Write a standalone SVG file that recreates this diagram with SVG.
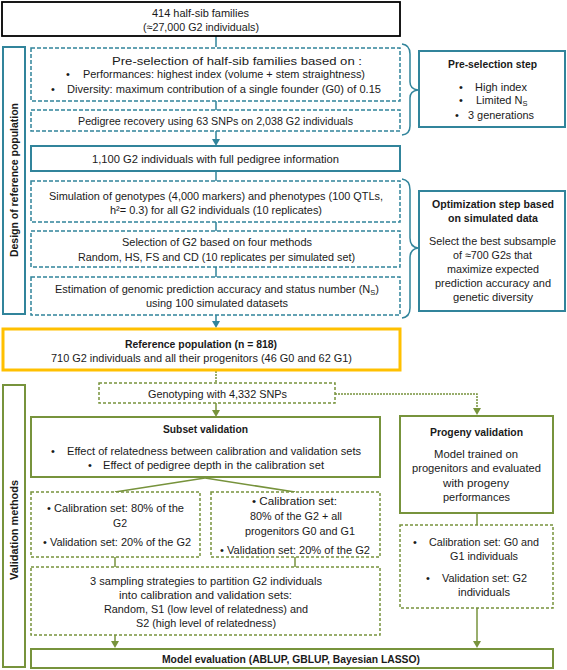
<svg xmlns="http://www.w3.org/2000/svg" width="567" height="670" viewBox="0 0 567 670">
<defs>
<style>
.t{font-family:"Liberation Sans",Arial,sans-serif;font-size:11px;fill:#1a1a1a}
.b{font-weight:bold}
.tl{fill:#fff;stroke:#31849B;stroke-width:2}
.tld{fill:#fff;stroke:#31849B;stroke-width:1.5;stroke-dasharray:4 2}
.gr{fill:#fff;stroke:#77933C;stroke-width:2}
.grd{fill:#fff;stroke:#77933C;stroke-width:1.5;stroke-dasharray:3 2}
.ct{stroke:#31849B;stroke-width:1.5;fill:none}
.cg{stroke:#77933C;stroke-width:1.5;fill:none}
.br{stroke:#31849B;stroke-width:1.5;fill:none}
</style>
</defs>

<g id="connectors">
<line class="ct" x1="216" y1="36" x2="216" y2="47"/>
<line class="ct" x1="216" y1="101" x2="216" y2="110"/>
<line class="ct" x1="216" y1="131" x2="216" y2="140"/>
<path d="M212,139 L220,139 L216,146 Z" fill="#31849B"/>
<line class="ct" x1="216" y1="171" x2="216" y2="181"/>
<line class="ct" x1="216" y1="222" x2="216" y2="231"/>
<line class="ct" x1="216" y1="267" x2="216" y2="277"/>
<line class="ct" x1="216" y1="315" x2="216" y2="322"/>
<path d="M212,321 L220,321 L216,328 Z" fill="#31849B"/>
<line class="cg" x1="216" y1="371" x2="216" y2="383" stroke-dasharray="2 1"/>
<line class="cg" x1="216" y1="403" x2="216" y2="411"/>
<path d="M212,410 L220,410 L216,417 Z" fill="#77933C"/>
<polyline class="cg" points="335,394 477,394 477,409" stroke-dasharray="2 1"/>
<path d="M473,408 L481,408 L477,415 Z" fill="#77933C"/>
<line class="cg" x1="205" y1="478" x2="115" y2="492"/>
<line class="cg" x1="205" y1="478" x2="295" y2="492"/>
<line class="cg" x1="115" y1="557" x2="115" y2="567"/>
<line class="cg" x1="295" y1="557" x2="295" y2="567"/>
<line class="cg" x1="115" y1="635" x2="115" y2="642"/>
<path d="M111,641 L119,641 L115,648 Z" fill="#77933C"/>
<line class="cg" x1="477" y1="513" x2="477" y2="525"/>
<line class="cg" x1="477" y1="608" x2="477" y2="642"/>
<path d="M473,641 L481,641 L477,648 Z" fill="#77933C"/>
<path class="br" d="M402,44 Q410,45 410,54 L410,82 Q410,89 418,90 Q410,91 410,98 L410,126 Q410,134 402,135"/>
<path class="br" d="M402,179 Q410,180 410,190 L410,238 Q410,247 418,248 Q410,249 410,258 L410,308 Q410,317 402,318"/>
</g>

<g id="top">
<rect x="2" y="2" width="398" height="34" fill="#fff" stroke="#000" stroke-width="1.8"/>
<text class="t" x="152" y="17" textLength="97" lengthAdjust="spacingAndGlyphs">414 half-sib families</text>
<text class="t" x="143" y="31" textLength="116" lengthAdjust="spacingAndGlyphs">(≈27,000 G2 individuals)</text>
</g>

<g id="design-label">
<rect class="tl" x="3" y="47" width="22" height="267"/>
<text class="t b" transform="translate(18,180) rotate(-90)" x="-77" y="0" textLength="154" lengthAdjust="spacingAndGlyphs" font-size="12">Design of reference population</text>
</g>

<g id="preselection">
<rect class="tld" x="31" y="48" width="369" height="53"/>
<text class="t" x="112" y="65" textLength="250" lengthAdjust="spacingAndGlyphs">Pre-selection of half-sib families based on :</text>
<text class="t" x="66" y="78">•</text>
<text class="t" x="83" y="78" textLength="282" lengthAdjust="spacingAndGlyphs">Performances: highest index (volume + stem straightness)</text>
<text class="t" x="51" y="93">•</text>
<text class="t" x="67" y="93" textLength="314" lengthAdjust="spacingAndGlyphs">Diversity: maximum contribution of a single founder (G0) of 0.15</text>
</g>

<g id="pedigree">
<rect class="tld" x="31" y="110" width="369" height="21"/>
<text class="t" x="78" y="125" textLength="275" lengthAdjust="spacingAndGlyphs">Pedigree recovery using 63 SNPs on 2,038 G2 individuals</text>
</g>

<g id="full-pedigree">
<rect class="tl" x="31" y="146" width="369" height="25"/>
<text class="t" x="92" y="163" textLength="247" lengthAdjust="spacingAndGlyphs">1,100 G2 individuals with full pedigree information</text>
</g>

<g id="simulation">
<rect class="tld" x="31" y="181" width="369" height="41"/>
<text class="t" x="49" y="200" textLength="334" lengthAdjust="spacingAndGlyphs">Simulation of genotypes (4,000 markers) and phenotypes (100 QTLs,</text>
<text class="t" x="110" y="214" textLength="212" lengthAdjust="spacingAndGlyphs">h²= 0.3) for all G2 individuals (10 replicates)</text>
</g>

<g id="selection">
<rect class="tld" x="31" y="231" width="369" height="36"/>
<text class="t" x="122" y="246" textLength="190" lengthAdjust="spacingAndGlyphs">Selection of G2 based on four methods</text>
<text class="t" x="78" y="261" textLength="277" lengthAdjust="spacingAndGlyphs">Random,  HS, FS and CD (10 replicates per simulated set)</text>
</g>

<g id="estimation">
<rect class="tld" x="31" y="277" width="369" height="38"/>
<text class="t" x="55" y="293" textLength="324" lengthAdjust="spacingAndGlyphs">Estimation of genomic prediction accuracy and status number (N<tspan font-size="7.5" dy="2">S</tspan><tspan dy="-2">)</tspan></text>
<text class="t" x="146" y="307" textLength="142" lengthAdjust="spacingAndGlyphs">using 100 simulated datasets</text>
</g>

<g id="reference-population">
<rect x="3" y="329" width="397" height="41" fill="#fff" stroke="#FFC000" stroke-width="3"/>
<text class="t b" x="125" y="348" textLength="152" lengthAdjust="spacingAndGlyphs">Reference population (n = 818)</text>
<text class="t" x="51" y="362" textLength="301" lengthAdjust="spacingAndGlyphs">710 G2 individuals and all their progenitors (46 G0 and 62 G1)</text>
</g>

<g id="preselection-step">
<rect class="tl" x="419" y="51" width="146" height="76"/>
<text class="t b" x="448" y="68" textLength="89" lengthAdjust="spacingAndGlyphs">Pre-selection step</text>
<text class="t" x="459" y="91">•</text>
<text class="t" x="475" y="91" textLength="52" lengthAdjust="spacingAndGlyphs">High index</text>
<text class="t" x="459" y="104">•</text>
<text class="t" x="476" y="104">Limited N<tspan font-size="7.5" dy="2">S</tspan></text>
<text class="t" x="455" y="119">•</text>
<text class="t" x="468" y="119" textLength="66" lengthAdjust="spacingAndGlyphs">3 generations</text>
</g>

<g id="optimization-step">
<rect class="tl" x="419" y="191" width="146" height="120"/>
<text class="t b" x="432" y="208" textLength="122" lengthAdjust="spacingAndGlyphs">Optimization step based</text>
<text class="t b" x="448" y="222" textLength="90" lengthAdjust="spacingAndGlyphs">on simulated data</text>
<text class="t" x="429" y="245" textLength="127" lengthAdjust="spacingAndGlyphs">Select the best subsample</text>
<text class="t" x="453" y="259" textLength="79" lengthAdjust="spacingAndGlyphs">of ≈700 G2s that</text>
<text class="t" x="447" y="273" textLength="92" lengthAdjust="spacingAndGlyphs">maximize expected</text>
<text class="t" x="435" y="287" textLength="116" lengthAdjust="spacingAndGlyphs">prediction accuracy and</text>
<text class="t" x="453" y="301" textLength="80" lengthAdjust="spacingAndGlyphs">genetic diversity</text>
</g>

<g id="validation-label">
<rect class="gr" x="3" y="385" width="22" height="282"/>
<text class="t b" transform="translate(18,530) rotate(-90)" x="-50" y="0" textLength="100" lengthAdjust="spacingAndGlyphs" font-size="12">Validation methods</text>
</g>

<g id="genotyping">
<rect class="grd" x="99" y="383" width="236" height="20"/>
<text class="t" x="148" y="398" textLength="139" lengthAdjust="spacingAndGlyphs">Genotyping with 4,332 SNPs</text>
</g>

<g id="subset-validation">
<rect class="gr" x="31" y="417" width="349" height="60"/>
<text class="t b" x="163" y="433" textLength="85" lengthAdjust="spacingAndGlyphs">Subset validation</text>
<text class="t" x="51" y="455">•</text>
<text class="t" x="67" y="455" textLength="294" lengthAdjust="spacingAndGlyphs">Effect of relatedness between calibration and validation sets</text>
<text class="t" x="88" y="469">•</text>
<text class="t" x="103" y="469" textLength="221" lengthAdjust="spacingAndGlyphs">Effect of pedigree depth in the calibration set</text>
</g>

<g id="progeny-validation">
<rect class="gr" x="400" y="416" width="153" height="97"/>
<text class="t b" x="430" y="436" textLength="93" lengthAdjust="spacingAndGlyphs">Progeny validation</text>
<text class="t" x="434" y="458" textLength="84" lengthAdjust="spacingAndGlyphs">Model trained on</text>
<text class="t" x="412" y="472" textLength="129" lengthAdjust="spacingAndGlyphs">progenitors and evaluated</text>
<text class="t" x="443" y="487" textLength="66" lengthAdjust="spacingAndGlyphs">with progeny</text>
<text class="t" x="443" y="501" textLength="67" lengthAdjust="spacingAndGlyphs">performances</text>
</g>

<g id="calib-g2">
<rect class="grd" x="31" y="492" width="169" height="65"/>
<text class="t" x="47" y="512" textLength="137" lengthAdjust="spacingAndGlyphs">• Calibration set: 80% of the</text>
<text class="t" x="113" y="527" textLength="14" lengthAdjust="spacingAndGlyphs">G2</text>
<text class="t" x="43" y="546" textLength="148" lengthAdjust="spacingAndGlyphs">• Validation set: 20% of the G2</text>
</g>

<g id="calib-g2-progenitors">
<rect class="grd" x="211" y="492" width="169" height="65"/>
<text class="t" x="252" y="505" textLength="85" lengthAdjust="spacingAndGlyphs">• Calibration set:</text>
<text class="t" x="250" y="520" textLength="92" lengthAdjust="spacingAndGlyphs">80% of the G2 + all</text>
<text class="t" x="245" y="535" textLength="110" lengthAdjust="spacingAndGlyphs">progenitors G0 and G1</text>
<text class="t" x="220" y="554" textLength="150" lengthAdjust="spacingAndGlyphs">• Validation set: 20% of the G2</text>
</g>

<g id="sampling">
<rect class="grd" x="31" y="567" width="349" height="68"/>
<text class="t" x="90" y="585" textLength="232" lengthAdjust="spacingAndGlyphs">3 sampling strategies to partition G2 individuals</text>
<text class="t" x="119" y="599" textLength="173" lengthAdjust="spacingAndGlyphs">into calibration and validation sets:</text>
<text class="t" x="104" y="613" textLength="204" lengthAdjust="spacingAndGlyphs">Random, S1 (low level of relatedness) and</text>
<text class="t" x="136" y="627" textLength="140" lengthAdjust="spacingAndGlyphs">S2 (high level of relatedness)</text>
</g>

<g id="progeny-sets">
<rect class="grd" x="400" y="525" width="153" height="83"/>
<text class="t" x="413" y="546">•</text>
<text class="t" x="429" y="546" textLength="110" lengthAdjust="spacingAndGlyphs">Calibration set: G0 and</text>
<text class="t" x="450" y="560" textLength="68" lengthAdjust="spacingAndGlyphs">G1 individuals</text>
<text class="t" x="426" y="582">•</text>
<text class="t" x="442" y="582" textLength="85" lengthAdjust="spacingAndGlyphs">Validation set: G2</text>
<text class="t" x="458" y="596" textLength="52" lengthAdjust="spacingAndGlyphs">individuals</text>
</g>

<g id="model-evaluation">
<rect class="gr" x="31" y="649" width="522" height="19"/>
<text class="t b" x="162" y="663" textLength="258" lengthAdjust="spacingAndGlyphs">Model evaluation  (ABLUP, GBLUP, Bayesian LASSO)</text>
</g>
</svg>
